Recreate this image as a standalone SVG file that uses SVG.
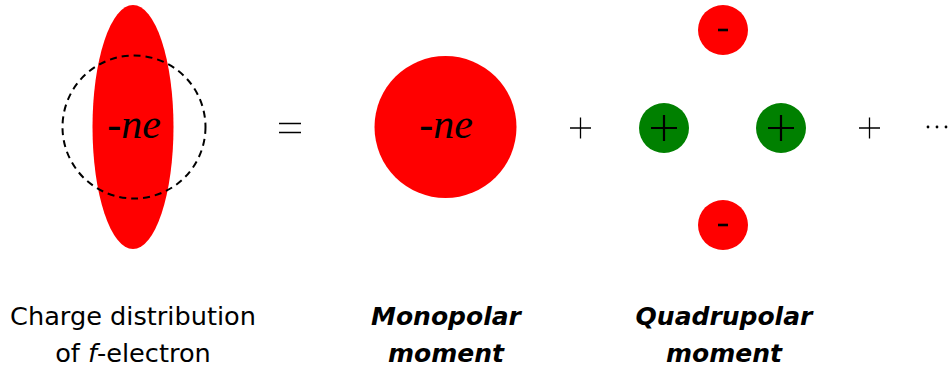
<svg xmlns="http://www.w3.org/2000/svg" width="950" height="371" viewBox="0 0 950 371">
<style>
.math{font-family:"Liberation Serif",serif;font-style:italic;font-size:42px;fill:#000;text-anchor:middle}
.lbl{font-family:"DejaVu Sans","Liberation Sans",sans-serif;font-size:25.6px;fill:#000;text-anchor:middle}
.bi{font-family:"DejaVu Sans","Liberation Sans",sans-serif;font-size:25px;font-weight:bold;font-style:italic;fill:#000;text-anchor:middle}
.red{fill:#ff0000}
.green{fill:#008000}
.sign{stroke:#000;stroke-width:2.2;fill:none}
.thin{stroke:#000;stroke-width:1.3;fill:none}
</style>
<g id="fElectron">
<ellipse cx="133" cy="127" rx="40.5" ry="122" class="red"/>
<circle cx="134" cy="127" r="71.5" fill="none" stroke="#000" stroke-width="2" stroke-dasharray="7,5"/>
<text x="134" y="138" class="math">-ne</text>
</g>
<g id="equals"><path d="M279 123.5H301M279 132.5H301" class="thin"/></g>
<g id="monopole">
<circle cx="445.5" cy="127" r="71" class="red"/>
<text x="446" y="138" class="math">-ne</text>
</g>
<g id="plus1"><path d="M570 128H591M580.5 117.5V138.5" class="thin"/></g>
<g id="quadrupole">
<circle cx="723" cy="30" r="25" class="red"/>
<path d="M718 30H728" stroke="#000" stroke-width="2.6"/>
<circle cx="723" cy="225" r="25" class="red"/>
<path d="M718 225H728" stroke="#000" stroke-width="2.6"/>
<circle cx="664" cy="128" r="25" class="green"/>
<path d="M651 128H677M664 115V141" class="sign"/>
<circle cx="781" cy="128" r="25" class="green"/>
<path d="M768 128H794M781 115V141" class="sign"/>
</g>
<g id="plus2"><path d="M859 128H880M869.5 117.5V138.5" class="thin"/></g>
<g id="dots">
<circle cx="928" cy="127" r="1.4"/><circle cx="937" cy="127" r="1.4"/><circle cx="946" cy="127" r="1.4"/>
</g>
<g id="label1">
<text x="133" y="325" class="lbl">Charge distribution</text>
<text x="133" y="362" class="lbl">of <tspan font-style="italic">f</tspan>-electron</text>
</g>
<g id="label2">
<text x="446" y="325" class="bi">Monopolar</text>
<text x="446" y="362" class="bi">moment</text>
</g>
<g id="label3">
<text x="724" y="325" class="bi">Quadrupolar</text>
<text x="724" y="362" class="bi">moment</text>
</g>
</svg>
